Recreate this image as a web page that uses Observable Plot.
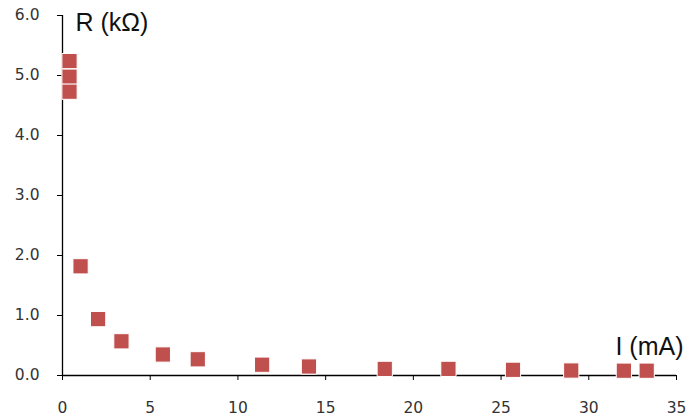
<!DOCTYPE html>
<html><head><meta charset="utf-8">
<script src="https://cdn.jsdelivr.net/npm/d3@7"></script>
<script src="https://cdn.jsdelivr.net/npm/@observablehq/plot@0.6"></script>
<style>body{margin:0;background:#fff}</style>
</head><body><div id="chart"></div>
<script>
const current = [0.4, 0.4, 0.4, 1.03, 2.03, 3.36, 5.72, 7.71, 11.38, 14.05, 18.37, 22.0, 25.68, 29.0, 32.0, 33.3];
const resistance = [5.24, 4.98, 4.73, 1.82, 0.94, 0.57, 0.35, 0.27, 0.18, 0.15, 0.11, 0.11, 0.095, 0.083, 0.08, 0.08];
const xTicks = [0, 5, 10, 15, 20, 25, 30, 35];
const yTicks = [0, 1, 2, 3, 4, 5, 6];
const yLabel = ["R (kΩ)"];
const xLabel = ["I (mA)"];
const data = current.map((x, i) => ({x, y: resistance[i]}));

const chart = Plot.plot({
  width: 686, height: 419,
  marginLeft: 62, marginTop: 15, marginRight: 10, marginBottom: 44,
  style: {fontFamily: "DejaVu Sans", fontSize: "15px", background: "#fff", overflow: "visible"},
  x: {domain: [0, 35]},
  y: {domain: [0, 6]},
  marks: [
    Plot.axisX({ticks: xTicks, tickSize: 5, tickPadding: 21, label: null, stroke: "#000", fill: "#333", fontSize: 15.5, tickFormat: d3.format("d")}),
    Plot.axisY({ticks: yTicks, tickSize: 5, tickPadding: 18, label: null, stroke: "#000", fill: "#333", fontSize: 15.5, tickFormat: d3.format(".1f")}),
    Plot.ruleX([0], {stroke: "#000", strokeWidth: 1.3}),
    Plot.ruleY([0], {stroke: "#000", strokeWidth: 1.3}),
    Plot.dot(data, {x: "x", y: "y", symbol: "square", r: 8.6, fill: "#c0504d", stroke: "#fff", strokeWidth: 1}),
    Plot.text(yLabel, {frameAnchor: "top-left", textAnchor: "start", lineAnchor: "middle", dx: 13, dy: 7.9, fontSize: 25, fontFamily: "Liberation Sans", fill: "#111"}),
    Plot.text(xLabel, {frameAnchor: "bottom-right", textAnchor: "end", lineAnchor: "middle", dx: 7, dy: -28.5, fontSize: 25, fontFamily: "Liberation Sans", fill: "#111"})
  ]
});
document.getElementById("chart").append(chart);
</script>
</body></html>
